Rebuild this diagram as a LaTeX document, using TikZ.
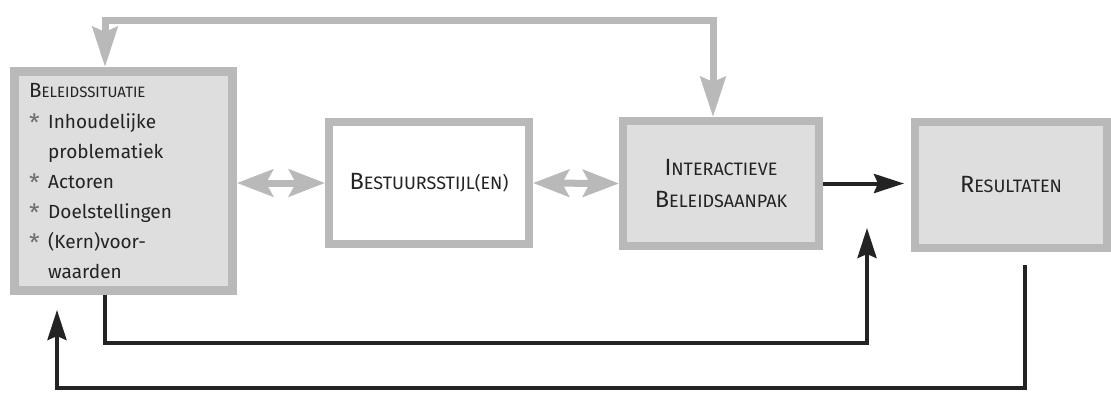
\documentclass[tikz,border=0pt]{standalone}
\usepackage{fontspec}
\setmainfont{Fira Sans}
\usetikzlibrary{arrows.meta}
\definecolor{bordergray}{RGB}{185,185,185}
\definecolor{fillgray}{RGB}{222,222,222}
\definecolor{txtgray}{RGB}{35,35,35}
\definecolor{stargray}{RGB}{110,110,110}
\definecolor{blk}{RGB}{35,35,35}
\newcommand\boxsc[2]{{\fontsize{23.5}{32}\selectfont #1}{\fontsize{18}{32}\selectfont #2}}
\newcommand\headsc[2]{{\fontsize{20.5}{24}\selectfont #1}{\fontsize{15}{24}\selectfont #2}}
\newcommand\bul{\makebox[19pt][l]{\raisebox{-3pt}{\fontsize{24}{24}\selectfont\color{stargray}*}}}
\newcommand\nobul{\hspace*{19pt}}
\begin{document}
\begin{tikzpicture}[x=1pt,y=-1pt,
  box/.style={draw=bordergray,line width=8pt,inner sep=0pt,text=txtgray,align=center,
    font=\fontsize{18}{32}\selectfont},
  graybox/.style={box,fill=fillgray},
  whitebox/.style={box,fill=white},
  grayarr/.style={draw=bordergray,line width=7pt,line join=miter},
  dblarr/.style={grayarr,{Stealth[length=36pt,width=27pt,inset=7pt]}-{Stealth[length=36pt,width=27pt,inset=7pt]}},
  toparr/.style={grayarr,{Stealth[length=40pt,width=25pt,inset=5pt]}-{Stealth[length=40pt,width=25pt,inset=5pt]}},
  blkarr/.style={draw=blk,line width=4pt,line join=miter,-{Stealth[length=30pt,width=19pt,inset=4pt]}},
  lbl/.style={inner sep=0pt,text=txtgray,align=left,anchor=north west}
]
\useasboundingbox (0,0) rectangle (1111,392);
\fill[white] (0,0) rectangle (1111,392);

\node[graybox,line width=9pt,minimum width=218pt,minimum height=219pt] (b1) at (123.5,181) {};
\node[whitebox,minimum width=200pt,minimum height=122pt] (b2) at (429,183) {\boxsc{B}{ESTUURSSTIJL(EN)}};
\node[graybox,minimum width=196pt,minimum height=125pt] (b3) at (721,183.5)
  {\boxsc{I}{NTERACTIEVE}\\\boxsc{B}{ELEIDSAANPAK}};
\node[graybox,minimum width=192pt,minimum height=126pt] (b4) at (1011,185) {\boxsc{R}{ESULTATEN}};

\node[lbl,font=\fontsize{19}{30}\selectfont] (t1) at (29,83)
  {\headsc{B}{ELEIDSSITUATIE}\\[1pt]
   \bul Inhoudelijke\\
   \nobul problematiek\\
   \bul Actoren\\
   \bul Doelstellingen\\
   \bul (Kern)voor-\\
   \nobul waarden};

% gray double arrows
\draw[dblarr] (b2.west -| b1.east) -- (b2.west);
\draw[dblarr] (b2.east) -- (b3.west);

% top gray loop
\coordinate (tl) at (105,20);
\coordinate (tr) at (713,20);
\draw[toparr] ([xshift=-18.5pt]b1.north) -- (tl) -- (tr) -- ([xshift=-8pt]b3.north);

% black arrows
\coordinate (e1) at (904,183.5);
\draw[blkarr] (b3.east) -- (e1);

\coordinate (c0) at (105,343);
\coordinate (c1) at (867,228);
\draw[blkarr] ([xshift=-18.5pt]b1.south) -- (c0) -| (c1);

\coordinate (r0) at (1025,265);
\coordinate (r1) at (1025,388);
\coordinate (c2) at (57,310);
\draw[blkarr] (r0) -- (r1) -| (c2);
\end{tikzpicture}
\end{document}
